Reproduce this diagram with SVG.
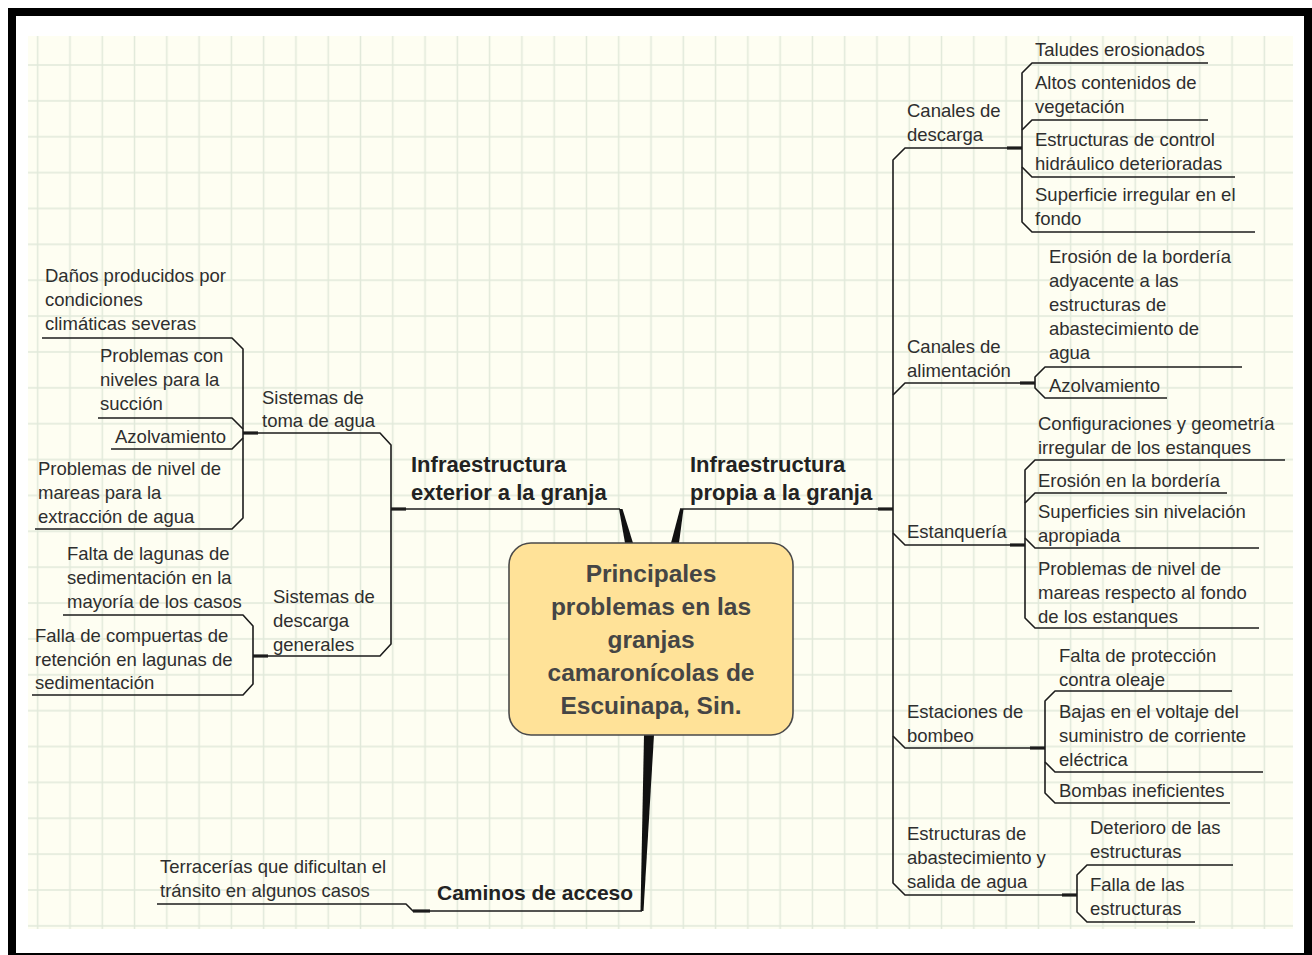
<svg xmlns="http://www.w3.org/2000/svg" width="1312" height="955" viewBox="0 0 1312 955">
<defs>
<pattern id="grid" patternUnits="userSpaceOnUse" x="21.56" y="47.06" width="32.28" height="35.87">
<line x1="16.14" y1="0" x2="16.14" y2="35.87" stroke="#E1E9DA" stroke-width="1.5"/>
<line x1="0" y1="17.93" x2="32.28" y2="17.93" stroke="#E1E9DA" stroke-width="1.5"/>
</pattern>
<style>
.t{font-family:"Liberation Sans",Arial,sans-serif;font-size:18.5px;fill:#2e2e2e}
.h{font-family:"Liberation Sans",Arial,sans-serif;font-size:22px;font-weight:bold;fill:#222}
.c{font-family:"Liberation Sans",Arial,sans-serif;font-size:24.5px;font-weight:bold;fill:#454545;text-anchor:middle}
.ln{fill:none;stroke:#1c1c1c;stroke-width:1.6;stroke-linejoin:round}
.st{fill:none;stroke:#1c1c1c;stroke-width:3.2}
.tp{fill:#111;stroke:none}
</style>
</defs>
<rect x="8" y="8" width="1304" height="947" fill="#000"/>
<rect x="16" y="16" width="1288" height="937" fill="#fff"/>
<rect x="28" y="36" width="1265" height="893" fill="#FEFEF2"/>
<rect x="28" y="36" width="1265" height="893" fill="url(#grid)"/>

<g id="connectors">
<!-- tapered main connectors -->
<polygon class="tp" points="619,509 622.5,509 633,543 625,543"/>
<polygon class="tp" points="680,509 683.5,509 679,543 671,543"/>
<polygon class="tp" points="644,735 654,735 643.5,911 640.5,911"/>
<!-- left trunk -->
<path class="ln" d="M620,509 H391"/>
<path class="st" d="M391,509 H406"/>
<path class="ln" d="M258,433 H380 L391,445 V644 L380,656 H268"/>
<!-- Sistemas de toma de agua -->
<path class="st" d="M243,433 H258"/>
<path class="ln" d="M42,338 H232 L243,349 V518 L232,529 H35"/>
<path class="ln" d="M98,418 H232 L243,429"/>
<path class="ln" d="M111,449 H232 L243,438"/>
<!-- Sistemas de descarga generales -->
<path class="st" d="M253,656 H268"/>
<path class="ln" d="M63,615 H243 L253,626 V684 L243,695 H32"/>
<!-- Caminos de acceso -->
<path class="ln" d="M642,911 H413 L406,904 H157"/>
<path class="st" d="M413,911 H430"/>
<!-- right trunk -->
<path class="ln" d="M680,509 H893"/>
<path class="st" d="M878,509 H893"/>
<path class="ln" d="M1007,148 H905 L893,160 V883 L905,895 H1062"/>
<path class="ln" d="M893,395 L905,383 H1020"/>
<path class="ln" d="M893,533 L905,545 H1010"/>
<path class="ln" d="M893,736 L905,748 H1030"/>
<!-- Canales de descarga -->
<path class="st" d="M1007,148 H1022"/>
<path class="ln" d="M1208,63 H1032 L1022,73 V222 L1032,232 H1255"/>
<path class="ln" d="M1022,130 L1032,120 H1208"/>
<path class="ln" d="M1022,167 L1032,177 H1235"/>
<!-- Canales de alimentacion -->
<path class="st" d="M1020,383 H1035"/>
<path class="ln" d="M1242,367 H1045 L1035,377 V388 L1045,398 H1167"/>
<!-- Estanqueria -->
<path class="st" d="M1010,545 H1025"/>
<path class="ln" d="M1285,460 H1035 L1025,470 V618 L1035,628 H1259"/>
<path class="ln" d="M1025,503 L1035,493 H1227"/>
<path class="ln" d="M1025,538 L1035,548 H1259"/>
<!-- Estaciones de bombeo -->
<path class="st" d="M1030,748 H1045"/>
<path class="ln" d="M1232,691 H1055 L1045,701 V793 L1055,803 H1230"/>
<path class="ln" d="M1045,762 L1055,772 H1263"/>
<!-- Estructuras de abastecimiento -->
<path class="st" d="M1062,895 H1077"/>
<path class="ln" d="M1233,865 H1087 L1077,875 V912 L1087,922 H1195"/>
</g>

<g id="central">
<rect x="509" y="543" width="284" height="192" rx="22" ry="22" fill="#FFE298" stroke="#4a4a4a" stroke-width="1.6"/>
<text class="c" x="651" y="582">Principales</text>
<text class="c" x="651" y="615">problemas en las</text>
<text class="c" x="651" y="648">granjas</text>
<text class="c" x="651" y="681">camaronícolas de</text>
<text class="c" x="651" y="714">Escuinapa, Sin.</text>
</g>

<g id="infra-exterior"><text class="h" x="411" y="472">Infraestructura</text><text class="h" x="411" y="500">exterior a la granja</text></g>
<g id="infra-propia"><text class="h" x="690" y="472">Infraestructura</text><text class="h" x="690" y="500">propia a la granja</text></g>
<g id="caminos"><text class="h" x="437" y="900" style="font-size:21px">Caminos de acceso</text></g>

<g id="sistemas-toma"><text class="t" x="262" y="404">Sistemas de</text><text class="t" x="262" y="427">toma de agua</text></g>
<g id="danos"><text class="t" x="45" y="282">Daños producidos por</text><text class="t" x="45" y="306">condiciones</text><text class="t" x="45" y="330">climáticas severas</text></g>
<g id="problemas-succion"><text class="t" x="100" y="362">Problemas con</text><text class="t" x="100" y="386">niveles para la</text><text class="t" x="100" y="410">succión</text></g>
<g id="azolvamiento-l"><text class="t" x="115" y="443">Azolvamiento</text></g>
<g id="problemas-mareas"><text class="t" x="38" y="475">Problemas de nivel de</text><text class="t" x="38" y="499">mareas para la</text><text class="t" x="38" y="523">extracción de agua</text></g>

<g id="sistemas-descarga"><text class="t" x="273" y="603">Sistemas de</text><text class="t" x="273" y="627">descarga</text><text class="t" x="273" y="651">generales</text></g>
<g id="falta-lagunas"><text class="t" x="67" y="560">Falta de lagunas de</text><text class="t" x="67" y="584">sedimentación en la</text><text class="t" x="67" y="608">mayoría de los casos</text></g>
<g id="falla-compuertas"><text class="t" x="35" y="642">Falla de compuertas de</text><text class="t" x="35" y="666">retención en lagunas de</text><text class="t" x="35" y="689">sedimentación</text></g>

<g id="terracerias"><text class="t" x="160" y="873">Terracerías que dificultan el</text><text class="t" x="160" y="897">tránsito en algunos casos</text></g>

<g id="canales-descarga"><text class="t" x="907" y="117">Canales de</text><text class="t" x="907" y="141">descarga</text></g>
<g id="taludes"><text class="t" x="1035" y="56">Taludes erosionados</text></g>
<g id="altos"><text class="t" x="1035" y="89">Altos contenidos de</text><text class="t" x="1035" y="113">vegetación</text></g>
<g id="estructuras-control"><text class="t" x="1035" y="146">Estructuras de control</text><text class="t" x="1035" y="170">hidráulico deterioradas</text></g>
<g id="superficie-irregular"><text class="t" x="1035" y="201">Superficie irregular en el</text><text class="t" x="1035" y="225">fondo</text></g>

<g id="canales-alimentacion"><text class="t" x="907" y="353">Canales de</text><text class="t" x="907" y="377">alimentación</text></g>
<g id="erosion-borderia"><text class="t" x="1049" y="263">Erosión de la bordería</text><text class="t" x="1049" y="287">adyacente a las</text><text class="t" x="1049" y="311">estructuras de</text><text class="t" x="1049" y="335">abastecimiento de</text><text class="t" x="1049" y="359">agua</text></g>
<g id="azolvamiento-r"><text class="t" x="1049" y="392">Azolvamiento</text></g>

<g id="estanqueria"><text class="t" x="907" y="538">Estanquería</text></g>
<g id="configuraciones"><text class="t" x="1038" y="430">Configuraciones y geometría</text><text class="t" x="1038" y="454">irregular de los estanques</text></g>
<g id="erosion-en"><text class="t" x="1038" y="487">Erosión en la bordería</text></g>
<g id="superficies-sin"><text class="t" x="1038" y="518">Superficies sin nivelación</text><text class="t" x="1038" y="542">apropiada</text></g>
<g id="problemas-nivel-fondo"><text class="t" x="1038" y="575">Problemas de nivel de</text><text class="t" x="1038" y="599">mareas respecto al fondo</text><text class="t" x="1038" y="623">de los estanques</text></g>

<g id="estaciones"><text class="t" x="907" y="718">Estaciones de</text><text class="t" x="907" y="742">bombeo</text></g>
<g id="falta-proteccion"><text class="t" x="1059" y="662">Falta de protección</text><text class="t" x="1059" y="686">contra oleaje</text></g>
<g id="bajas-voltaje"><text class="t" x="1059" y="718">Bajas en el voltaje del</text><text class="t" x="1059" y="742">suministro de corriente</text><text class="t" x="1059" y="766">eléctrica</text></g>
<g id="bombas"><text class="t" x="1059" y="797">Bombas ineficientes</text></g>

<g id="estructuras-abastecimiento"><text class="t" x="907" y="840">Estructuras de</text><text class="t" x="907" y="864">abastecimiento y</text><text class="t" x="907" y="888">salida de agua</text></g>
<g id="deterioro"><text class="t" x="1090" y="834">Deterioro de las</text><text class="t" x="1090" y="858">estructuras</text></g>
<g id="falla-estructuras"><text class="t" x="1090" y="891">Falla de las</text><text class="t" x="1090" y="915">estructuras</text></g>
</svg>
